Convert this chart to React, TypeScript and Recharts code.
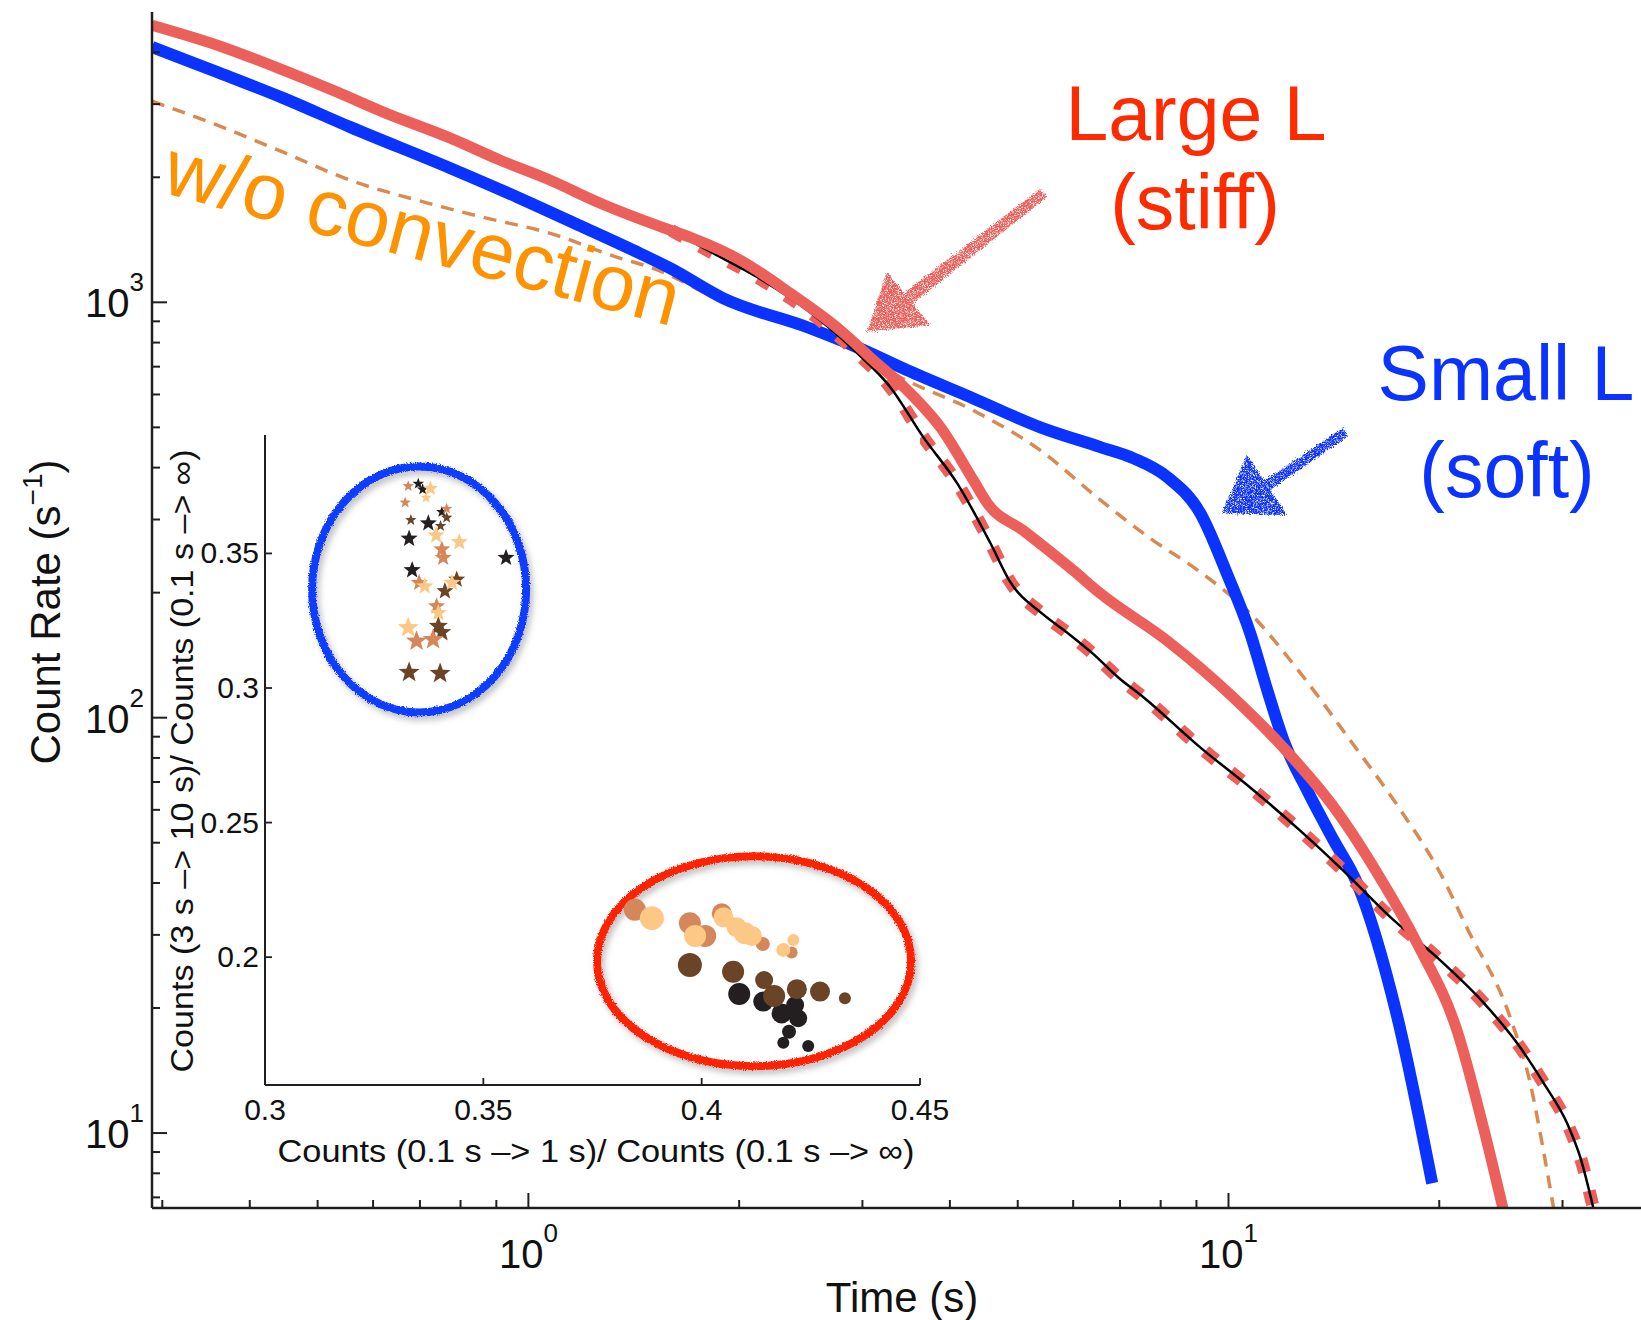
import React from "react";
import {
  LineChart,
  Line,
  XAxis,
  YAxis,
  ScatterChart,
  Scatter,
  ReferenceDot,
  CartesianGrid,
} from "recharts";

const FONT = '"Liberation Sans", Arial, Helvetica, sans-serif';
const AXIS = "#1f1f1f";

// main panel: count rate vs time, log-log
const stiffTime = [0.29, 0.3595, 0.4467, 0.5335, 0.6205, 0.7738, 0.912, 1.075, 1.267, 1.596, 1.704, 2.009, 2.367, 2.791, 3.111, 3.478, 3.878, 4.322, 4.526, 5.095, 6.005, 6.564, 8.183, 10.17, 11.98, 14.13, 16.33, 18.62, 21.24, 23.13, 24.71];
const stiffRate = [4645, 4159, 3623, 3206, 2871, 2485, 2198, 1967, 1732, 1491, 1434, 1263, 1051, 856, 725, 614, 500, 372.5, 328, 282, 226, 199, 153, 111.7, 84.7, 61, 42.1, 28.5, 17.5, 10.3, 6.49];

const softTime = [0.29, 0.3595, 0.4467, 0.5568, 0.7738, 0.9645, 1.198, 1.445, 1.596, 1.899, 2.503, 2.951, 3.478, 4.322, 5.387, 6.564, 7.32, 8.17, 9.12, 9.95, 10.75, 11.36, 11.98, 12.95, 14.13, 15.27, 17.42, 19.54];
const softRate = [4116, 3583, 3102, 2641, 2103, 1791, 1516, 1310, 1207, 1022, 871, 779, 686, 587, 500, 448, 421, 380, 310, 222, 159, 116.5, 88.3, 66.9, 50.7, 39.9, 19.05, 7.57];

const noConvTime = [0.29, 0.3595, 0.4467, 0.5568, 0.694, 0.862, 1.075, 1.34, 1.494, 1.899, 2.503, 2.951, 3.4, 4.322, 5.387, 6.564, 7.737, 9.12, 10.75, 12.67, 14.94, 17.6, 20.09, 21.95, 25.28, 27.0, 28.18, 29.13];
const noConvRate = [3050, 2670, 2298, 1967, 1761, 1602, 1466, 1283, 1214, 1005, 852, 760, 660, 549, 440, 334, 270, 224, 178, 128, 88, 60, 42.1, 31, 18.9, 13.1, 9.05, 6.6];

const fitTime = [1.6, 1.802, 2.124, 2.503, 2.951, 3.29, 3.667, 4.1, 4.571, 4.88, 5.42, 5.89, 6.39, 6.96, 7.56, 9.12, 10.75, 12.67, 14.45, 17.03, 19.89, 23.13, 25.88, 28.18, 30.5, 31.8, 33.2];
const fitRate = [1490, 1335, 1149, 957, 754, 624, 473, 366, 263, 212, 178, 160, 143, 125, 112, 84.7, 67.8, 53.4, 43.5, 33.1, 26.4, 20.6, 16.4, 13.2, 10.5, 8.75, 6.6];

const xTicks = [0.3, 0.4, 0.5, 0.6, 0.7, 0.8, 0.9, 1, 2, 3, 4, 5, 6, 7, 8, 9, 10, 20, 30];
const yTicks = [7, 8, 9, 10, 20, 30, 40, 50, 60, 70, 80, 90, 100, 200, 300, 400, 500, 600, 700, 800, 900, 1000, 2000, 3000, 4000];

// inset: hardness ratios
const starX = [0.3328, 0.3351, 0.3361, 0.3379, 0.3369, 0.3321, 0.3416, 0.3405, 0.3416, 0.3334, 0.3374, 0.3402, 0.333, 0.3392, 0.3445, 0.3405, 0.3408, 0.3552, 0.3337, 0.3353, 0.3366, 0.3439, 0.3428, 0.3412, 0.3393, 0.3397, 0.3397, 0.3405, 0.3328, 0.3347, 0.3385, 0.333, 0.3401];
const starY = [0.375, 0.3759, 0.3738, 0.3741, 0.3707, 0.3689, 0.3666, 0.3654, 0.3633, 0.3624, 0.3612, 0.3602, 0.3555, 0.3567, 0.3542, 0.3515, 0.3484, 0.3484, 0.3438, 0.3391, 0.3378, 0.3403, 0.3391, 0.336, 0.3304, 0.3279, 0.323, 0.3207, 0.3224, 0.3174, 0.318, 0.3058, 0.3054];
const starShade = [1, 3, 3, 0, 0, 1, 1, 3, 2, 2, 3, 2, 3, 0, 0, 1, 1, 3, 3, 1, 0, 2, 0, 2, 1, 0, 2, 2, 0, 1, 1, 2, 2];
const starR = [6, 6, 6, 8, 6, 6, 6, 6, 6, 6, 9, 6, 9, 9, 9, 9, 9, 9, 9, 9, 9, 9, 9, 9, 9, 9, 10, 10, 11, 11, 11, 11, 11];

const circX = [0.3847, 0.3886, 0.3973, 0.4008, 0.3985, 0.4046, 0.405, 0.408, 0.4099, 0.4115, 0.414, 0.421, 0.4187, 0.4206, 0.3973, 0.4072, 0.4143, 0.4086, 0.4141, 0.4166, 0.4218, 0.4271, 0.4328, 0.4183, 0.4214, 0.4221, 0.42, 0.4187, 0.4244];
const circY = [0.2176, 0.2145, 0.2126, 0.2079, 0.2079, 0.2163, 0.2148, 0.2111, 0.2089, 0.2079, 0.2049, 0.2064, 0.2027, 0.2017, 0.1971, 0.1946, 0.1915, 0.1863, 0.1835, 0.1856, 0.1881, 0.1872, 0.1847, 0.1791, 0.1822, 0.1773, 0.1723, 0.1682, 0.167];
const circShade = [1, 0, 1, 1, 0, 1, 0, 0, 0, 0, 1, 0, 0, 1, 2, 2, 2, 3, 3, 2, 2, 2, 2, 3, 3, 3, 3, 3, 3];
const circR = [11, 12, 11, 11, 11, 10, 10, 10, 11, 10, 7, 6, 7, 6, 12, 11, 9, 11, 10, 11, 10, 10, 6, 10, 9, 9, 7, 6, 6];

const shadeColors = ["#FDC886", "#D4875A", "#6B4326", "#231F20"];
const shadeOrder = [3, 2, 1, 0];

const zip = (t: number[], v: number[]) => t.map((x, i) => ({ t: x, v: v[i] }));
const stiffData = zip(stiffTime, stiffRate);
const softData = zip(softTime, softRate);
const noConvData = zip(noConvTime, noConvRate);
const fitData = zip(fitTime, fitRate);

const stars = starX.map((x, i) => ({ x, y: starY[i], r: starR[i], s: starShade[i] }));
const circles = circX.map((x, i) => ({ x, y: circY[i], r: circR[i], s: circShade[i] }));

function starPath(cx: number, cy: number, R: number) {
  let d = "";
  for (let i = 0; i < 10; i++) {
    const r = i % 2 === 0 ? R : R * 0.42;
    const a = -Math.PI / 2 + (i * Math.PI) / 5;
    d += (i ? "L" : "M") + (cx + r * Math.cos(a)).toFixed(2) + " " + (cy + r * Math.sin(a)).toFixed(2);
  }
  return d + "Z";
}

const dirs: Record<string, [number, number]> = {
  bottom: [0, -1],
  top: [0, 1],
  left: [1, 0],
  right: [-1, 0],
};

const MainTick = (props: any) => {
  const { x, y, payload, side } = props;
  const v = Number(payload.value);
  const lg = Math.log10(v);
  const exp = Math.round(lg);
  const major = Math.abs(lg - exp) < 1e-6;
  const len = major ? 15 : 8;
  const d = dirs[side];
  let label = null;
  if (major && side === "bottom") {
    label = (
      <text x={x} y={y + 60} textAnchor="middle" fontFamily={FONT} fontSize={40} fill="#111">
        10<tspan dy={-26} fontSize={26}>{exp}</tspan>
      </text>
    );
  }
  if (major && side === "left") {
    label = (
      <text x={x - 8} y={y + 15} textAnchor="end" fontFamily={FONT} fontSize={40} fill="#111">
        10<tspan dy={-26} fontSize={26}>{exp}</tspan>
      </text>
    );
  }
  return (
    <g>
      <line x1={x} y1={y} x2={x + d[0] * len} y2={y + d[1] * len} stroke={AXIS} strokeWidth={2} />
      {label}
    </g>
  );
};

const InsetTick = (props: any) => {
  const { x, y, payload, side } = props;
  const v = Number(payload.value);
  const d = dirs[side];
  let label = null;
  if (side === "bottom") {
    label = (
      <text x={x} y={y + 35} textAnchor="middle" fontFamily={FONT} fontSize={30} fill="#111">
        {String(v)}
      </text>
    );
  }
  if (side === "left") {
    label = (
      <text x={x - 6} y={y + 10} textAnchor="end" fontFamily={FONT} fontSize={30} fill="#111">
        {String(v)}
      </text>
    );
  }
  return (
    <g>
      <line x1={x} y1={y} x2={x + d[0] * 7} y2={y + d[1] * 7} stroke={AXIS} strokeWidth={1.8} />
      {label}
    </g>
  );
};

const ellipseShape = (rx: number, ry: number, color: string) => (p: any) => (
  <ellipse cx={p.cx} cy={p.cy} rx={rx} ry={ry} fill="none" stroke={color} strokeWidth={8} filter="url(#roughShadow)" />
);

const axisLine = { stroke: AXIS, strokeWidth: 2.5 };

function MainChart() {
  return (
    <LineChart width={1660} height={1320} margin={{ top: 12, right: 10, bottom: 0, left: 0 }}>
      <XAxis type="number" dataKey="t" scale="log" domain={[0.29, 40]} allowDataOverflow ticks={xTicks} interval={0}
        tickSize={0} tickMargin={0} tickLine={false} axisLine={axisLine} height={112} tick={<MainTick side="bottom" />} />
      <XAxis xAxisId="top" orientation="top" type="number" dataKey="t" scale="log" domain={[0.29, 40]} allowDataOverflow
        ticks={xTicks} interval={0} tickSize={0} tickMargin={0} tickLine={false} axisLine={axisLine} height={0}
        tick={<MainTick side="top" />} />
      <YAxis type="number" dataKey="v" scale="log" domain={[6.6, 5000]} allowDataOverflow ticks={yTicks} interval={0}
        tickSize={0} tickMargin={0} tickLine={false} axisLine={axisLine} width={152} tick={<MainTick side="left" />} />
      <YAxis yAxisId="right" orientation="right" type="number" dataKey="v" scale="log" domain={[6.6, 5000]}
        allowDataOverflow ticks={yTicks} interval={0} tickSize={0} tickMargin={0} tickLine={false}
        axisLine={axisLine} width={0} tick={<MainTick side="right" />} />
      <Line data={noConvData} dataKey="v" type="monotone" stroke="#D98952" strokeWidth={3.5} strokeDasharray="13 9"
        dot={false} activeDot={false} isAnimationActive={false} />
      <Line data={softData} dataKey="v" type="monotone" stroke="#0A33FF" strokeWidth={12} strokeLinejoin="round"
        dot={false} activeDot={false} isAnimationActive={false} />
      <Line data={fitData} dataKey="v" type="monotone" stroke="#EC605B" strokeWidth={13} strokeDasharray="14 19"
        dot={false} activeDot={false} isAnimationActive={false} />
      <Line data={fitData} dataKey="v" type="monotone" stroke="#000" strokeWidth={2.5}
        dot={false} activeDot={false} isAnimationActive={false} />
      <Line data={stiffData} dataKey="v" type="monotone" stroke="#EC605B" strokeWidth={11} strokeLinejoin="round"
        dot={false} activeDot={false} isAnimationActive={false} />
    </LineChart>
  );
}

function InsetChart() {
  return (
    <ScatterChart width={1641} height={1320} margin={{ top: 435, right: 721, bottom: 0, left: 0 }}>
      <CartesianGrid fill="#fff" horizontal={false} vertical={false} stroke="none" />
      <XAxis type="number" dataKey="x" domain={[0.3, 0.45]} allowDataOverflow ticks={[0.3, 0.35, 0.4, 0.45]}
        interval={0} tickSize={0} tickMargin={0} tickLine={false} axisLine={{ stroke: AXIS, strokeWidth: 2 }}
        height={235} tick={<InsetTick side="bottom" />} />
      <XAxis xAxisId="top" orientation="top" type="number" dataKey="x" domain={[0.3, 0.45]} allowDataOverflow
        ticks={[0.3, 0.35, 0.4, 0.45]} interval={0} tickSize={0} tickMargin={0} tickLine={false}
        axisLine={{ stroke: AXIS, strokeWidth: 2 }} height={0} tick={<InsetTick side="top" />} />
      <YAxis type="number" dataKey="y" domain={[0.1525, 0.394]} allowDataOverflow ticks={[0.2, 0.25, 0.3, 0.35]}
        interval={0} tickSize={0} tickMargin={0} tickLine={false} axisLine={{ stroke: AXIS, strokeWidth: 2 }}
        width={265} tick={<InsetTick side="left" />} />
      <YAxis yAxisId="right" orientation="right" type="number" dataKey="y" domain={[0.1525, 0.394]} allowDataOverflow
        ticks={[0.2, 0.25, 0.3, 0.35]} interval={0} tickSize={0} tickMargin={0} tickLine={false}
        axisLine={{ stroke: AXIS, strokeWidth: 2 }} width={0} tick={<InsetTick side="right" />} />
      <ReferenceDot x={0.3353} y={0.3366} shape={ellipseShape(107, 123, "#0A3CFF")} />
      <ReferenceDot x={0.412} y={0.1985} shape={ellipseShape(157, 105, "#FF2200")} />
      {shadeOrder.map((k) => (
        <Scatter key={"s" + k} data={stars.filter((d) => d.s === k)} isAnimationActive={false}
          shape={(p: any) => <path d={starPath(p.cx, p.cy, p.payload.r)} fill={shadeColors[k]} />} />
      ))}
      {shadeOrder.map((k) => (
        <Scatter key={"c" + k} data={circles.filter((d) => d.s === k)} isAnimationActive={false}
          shape={(p: any) => <circle cx={p.cx} cy={p.cy} r={p.payload.r} fill={shadeColors[k]} />} />
      ))}
    </ScatterChart>
  );
}

function Annotations() {
  const txt = { fontFamily: FONT };
  return (
    <svg width={1641} height={1320} style={{ position: "absolute", left: 0, top: 0, pointerEvents: "none" }}>
      <text {...txt} x={902} y={1312} fontSize={42} textAnchor="middle" fill="#111">Time (s)</text>
      <text {...txt} x={60} y={612} fontSize={42} textAnchor="middle" fill="#111" transform="rotate(-90 60 612)">
        Count Rate (s<tspan dy={-18} fontSize={28}>−1</tspan><tspan dy={18} fontSize={42}>)</tspan>
      </text>
      <text {...txt} x={596} y={1162} fontSize={32} textAnchor="middle" fill="#111" textLength={637}
        lengthAdjust="spacingAndGlyphs">Counts (0.1 s –&gt; 1 s)/ Counts (0.1 s –&gt; ∞)</text>
      <text {...txt} x={193} y={761} fontSize={32} textAnchor="middle" fill="#111" textLength={623}
        lengthAdjust="spacingAndGlyphs" transform="rotate(-90 193 761)">
        Counts (3 s –&gt; 10 s)/ Counts (0.1 s –&gt; ∞)
      </text>
      <text {...txt} x={160} y={192} fontSize={80} fill="#FF9200" transform="rotate(14.7 160 192)">w/o convection</text>
      <text {...txt} x={1196} y={140} fontSize={77} textAnchor="middle" fill="#FF2B00">Large L</text>
      <text {...txt} x={1195} y={229} fontSize={77} textAnchor="middle" fill="#FF2B00">(stiff)</text>
      <text {...txt} x={1506} y={400} fontSize={77} textAnchor="middle" fill="#0A33FF">Small L</text>
      <text {...txt} x={1507} y={497} fontSize={77} textAnchor="middle" fill="#0A33FF">(soft)</text>
      <g filter="url(#crayon)" fill="#EC605C">
        <polygon points="1047,197 1040,189 904,293 912,304" />
        <polygon points="867,332 887,272 930,325" />
      </g>
      <g filter="url(#crayon)" fill="#0A33FF">
        <polygon points="1348,436 1343,428 1264,481 1270,490" />
        <polygon points="1222,513 1247,455 1287,515" />
      </g>
    </svg>
  );
}

export default function App() {
  return (
    <div style={{ position: "absolute", left: 0, top: 0, width: 1641, height: 1320, overflow: "hidden", background: "#fff" }}>
      <svg width={0} height={0} style={{ position: "absolute" }}>
        <defs>
          <filter id="crayon" x="-20%" y="-20%" width="140%" height="140%">
            <feTurbulence type="fractalNoise" baseFrequency="0.9" numOctaves={2} seed={4} result="noise" />
            <feDisplacementMap in="SourceGraphic" in2="noise" scale={6} xChannelSelector="R" yChannelSelector="G" result="rough" />
            <feTurbulence type="fractalNoise" baseFrequency="1.6" numOctaves={1} seed={9} result="grain" />
            <feColorMatrix in="grain" type="matrix" values="0 0 0 0 0  0 0 0 0 0  0 0 0 0 0  4 0 0 0 -1.1" result="mask" />
            <feComposite in="rough" in2="mask" operator="in" />
          </filter>
          <filter id="roughShadow" x="-20%" y="-20%" width="140%" height="140%">
            <feTurbulence type="fractalNoise" baseFrequency="0.9" numOctaves={2} seed={7} result="noise" />
            <feDisplacementMap in="SourceGraphic" in2="noise" scale={4} xChannelSelector="R" yChannelSelector="G" result="rough" />
            <feGaussianBlur in="rough" stdDeviation={3} result="blur" />
            <feColorMatrix in="blur" type="matrix" values="0 0 0 0 0.25  0 0 0 0 0.25  0 0 0 0 0.25  0 0 0 0.55 0" result="shadow" />
            <feOffset in="shadow" dx={3} dy={4} result="off" />
            <feMerge>
              <feMergeNode in="off" />
              <feMergeNode in="rough" />
            </feMerge>
          </filter>
        </defs>
      </svg>
      <div style={{ position: "absolute", left: 0, top: 0 }}>
        <MainChart />
      </div>
      <div style={{ position: "absolute", left: 0, top: 0 }}>
        <InsetChart />
      </div>
      <Annotations />
    </div>
  );
}
